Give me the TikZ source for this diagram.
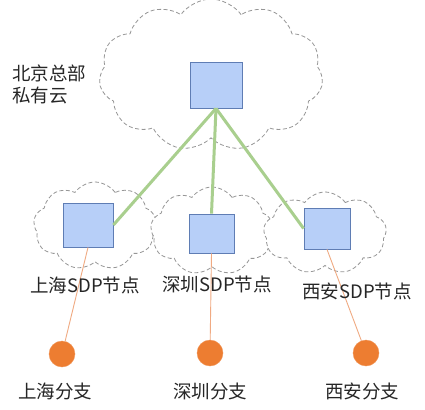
\documentclass[tikz,border=0pt]{standalone}
\usepackage{fontspec}
\setmainfont{Noto Sans CJK SC}
\usetikzlibrary{shapes.symbols}
\definecolor{boxfill}{RGB}{183,207,248}
\definecolor{boxline}{RGB}{95,125,180}
\definecolor{cloudline}{RGB}{150,150,150}
\definecolor{linkgreen}{RGB}{169,207,142}
\definecolor{branchor}{RGB}{237,125,49}
\definecolor{branchline}{RGB}{240,170,130}
\tikzset{
  cloudbox/.style={cloud, cloud puffs=11, cloud puff arc=110, draw=cloudline, line width=0.8pt, dash pattern=on 4pt off 2.5pt, fill=white, inner sep=0pt},
  sdpbox/.style={draw=boxline, fill=boxfill, line width=0.8pt, inner sep=0pt},
  greenlink/.style={draw=linkgreen, line width=3pt},
  orangelink/.style={draw=branchline, line width=0.9pt},
  branchdot/.style={circle, fill=branchor, draw=branchor!80!white, inner sep=0pt, minimum size=26pt},
  lbl/.style={font=\fontsize{18.5}{22}\selectfont, inner sep=0pt, text=black!85},
}
\begin{document}
\begin{tikzpicture}[x=1pt,y=-1pt]
\useasboundingbox[fill=white] (0,0) rectangle (425,409);
% clouds
\node[cloudbox, minimum width=224pt, minimum height=152pt] (bigcloud) at (211,75) {};
\node[cloudbox, cloud puffs=9, minimum width=123pt, minimum height=88pt] (shcloud) at (95,226) {};
\node[cloudbox, cloud puffs=9, minimum width=123pt, minimum height=88pt] (szcloud) at (212,231) {};
\node[cloudbox, cloud puffs=9, minimum width=123pt, minimum height=82pt] (xacloud) at (325,233) {};
% boxes
\node[sdpbox, minimum width=52pt, minimum height=46pt] (hq) at (216,85) {};
\node[sdpbox, minimum width=50pt, minimum height=44pt] (sh) at (88,225) {};
\node[sdpbox, minimum width=45pt, minimum height=39pt] (sz) at (211.5,233.5) {};
\node[sdpbox, minimum width=46pt, minimum height=41pt] (xa) at (327,228.5) {};
% green links
\draw[greenlink] (hq.south) -- (sh.east);
\draw[greenlink] (hq.south) -- (sz.north);
\draw[greenlink] (hq.south) -- (xa.west);
% branches
\node[branchdot] (shb) at (62,354) {};
\node[branchdot] (szb) at (210,353) {};
\node[branchdot] (xab) at (366,353) {};
\draw[orangelink] (sh.south) -- (shb);
\draw[orangelink] (sz.south) -- (szb);
\draw[orangelink] (xa.south) -- (xab);
% labels
\node[lbl, align=left, anchor=west] (hqlbl) at (12,84) {北京总部\\私有云};
\node[lbl] (shlbl) at (85,285) {上海SDP节点};
\node[lbl] (szlbl) at (217,284) {深圳SDP节点};
\node[lbl] (xalbl) at (357,291) {西安SDP节点};
\node[lbl] (shblbl) at (55,391) {上海分支};
\node[lbl] (szblbl) at (210,391) {深圳分支};
\node[lbl] (xablbl) at (362,391) {西安分支};
\end{tikzpicture}
\end{document}
